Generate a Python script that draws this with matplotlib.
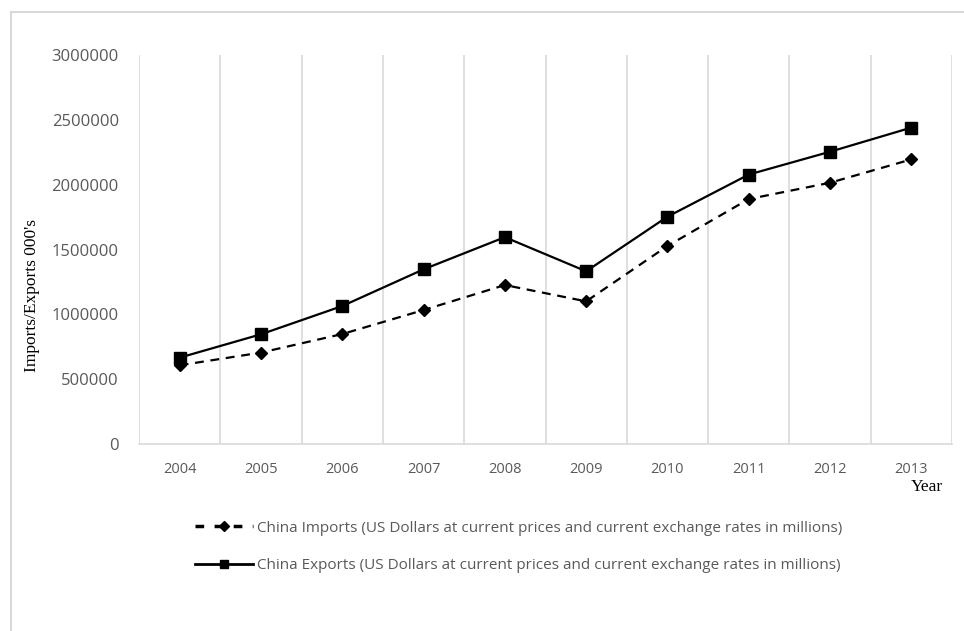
import numpy as np
import matplotlib.pyplot as plt
from matplotlib.lines import Line2D
from matplotlib.patches import Rectangle

# Данные
years = ['2004', '2005', '2006', '2007', '2008', '2009', '2010', '2011', '2012', '2013']
imports = [607000, 705000, 848000, 1033000, 1226000, 1100000, 1527000, 1889000, 2015000, 2195000]
exports = [666000, 846000, 1064000, 1347000, 1595000, 1332000, 1753000, 2078000, 2254000, 2440000]
y_ticks = [0, 500000, 1000000, 1500000, 2000000, 2500000, 3000000]

imports_label = 'China Imports (US Dollars at current prices and current exchange rates in millions)'
exports_label = 'China Exports (US Dollars at current prices and current exchange rates in millions)'

grid_col = '#d9d9d9'
text_col = '#595959'

fig = plt.figure(figsize=(9.64, 6.31), dpi=100)
ax = fig.add_axes([139 / 964, 1 - 444 / 631, (952 - 139) / 964, (444 - 55) / 631])

# рамка вокруг области диаграммы
fig.patches.append(Rectangle((10.5 / 964, -0.1), 1.2, 1 - 12 / 631 + 0.1,
                             transform=fig.transFigure, fill=False,
                             edgecolor=grid_col, linewidth=1.5))

x = np.arange(len(years))
ax.plot(x, imports, color='black', linestyle=(0, (4, 3)), linewidth=1.6,
        marker='D', markersize=6.5)
ax.plot(x, exports, color='black', linestyle='-', linewidth=1.6,
        marker='s', markersize=8.5)

ax.set_xlim(-0.5, len(years) - 0.5)
ax.set_ylim(0, 3000000)
ax.set_xticks(x)
ax.set_xticklabels(years)
ax.set_yticks(y_ticks)
ax.set_yticklabels([str(v) for v in y_ticks])

# вертикальная сетка по границам категорий
ax.set_xticks(np.arange(-0.5, len(years)), minor=True)
ax.grid(True, which='minor', axis='x', color=grid_col, linewidth=1.2)
ax.tick_params(which='both', length=0)
ax.tick_params(axis='y', pad=14.5, labelsize=12, labelcolor=text_col)
ax.tick_params(axis='x', pad=13, labelsize=10.5, labelcolor=text_col)
for lab in ax.get_xticklabels() + ax.get_yticklabels():
    lab.set_family('Open Sans')

for side in ['top', 'right', 'left']:
    ax.spines[side].set_visible(False)
ax.spines['bottom'].set_color(grid_col)
ax.spines['bottom'].set_linewidth(1.2)

fig.text(32 / 964, 1 - 296 / 631, "Imports/Exports 000's", rotation=90,
         ha='center', va='center', family='Liberation Serif', fontsize=12.5)
fig.text(927 / 964, 1 - 487 / 631, 'Year', ha='center', va='center',
         family='Liberation Serif', fontsize=12.5)

handles = [
    Line2D([], [], color='black', linestyle=(0, (2.5, 3)), linewidth=2.5,
           marker='D', markersize=5),
    Line2D([], [], color='black', linestyle='-', linewidth=2,
           marker='s', markersize=6),
]
leg = fig.legend(handles, [imports_label, exports_label],
                 loc='upper left', bbox_to_anchor=(181 / 964, 1 - 507 / 631),
                 frameon=False, handlelength=3.8, handletextpad=0.3,
                 labelspacing=1.45, prop={'family': 'Open Sans', 'size': 11})
for t in leg.get_texts():
    t.set_color(text_col)

plt.savefig('out.png', dpi=100)
